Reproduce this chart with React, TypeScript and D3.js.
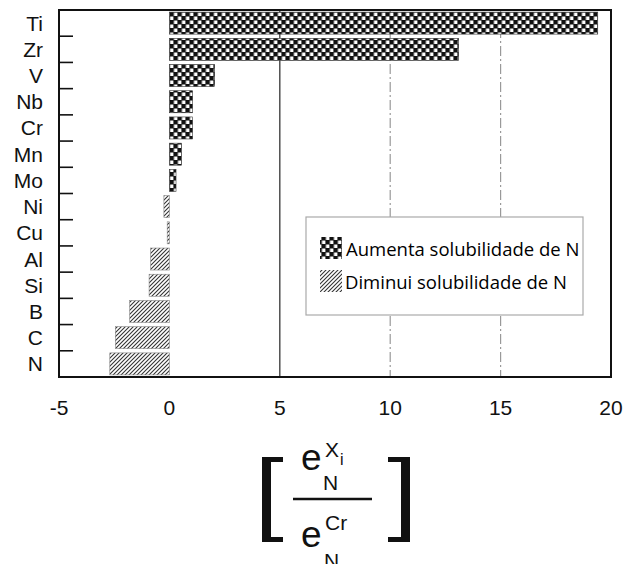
import React from "react";
import * as d3 from "d3";

const categories = ["Ti", "Zr", "V", "Nb", "Cr", "Mn", "Mo", "Ni", "Cu", "Al", "Si", "B", "C", "N"];
const values = [19.4, 13.1, 2.05, 1.05, 1.05, 0.55, 0.3, -0.25, -0.1, -0.85, -0.92, -1.8, -2.45, -2.7];
const xTicks = [-5, 0, 5, 10, 15, 20];
const legendLabels = ["Aumenta solubilidade de N", "Diminui solubilidade de N"];

const W = 626;
const H = 564;
const L = 59, R = 611, T = 10, B = 377;

export default function App() {
  const x = d3.scaleLinear().domain([-5, 20]).range([L, R]);
  const y = d3.scaleBand<string>().domain(categories).range([T, B]).paddingInner(0.16).paddingOuter(0.08);
  const boundaries = categories.slice(1).map((c) => (y(c) as number) - (y.step() - y.bandwidth()) / 2);
  const axisFont = "'Liberation Sans', Arial, Helvetica, sans-serif";

  return (
    <svg width={W} height={H} style={{ position: "absolute", left: 0, top: 0, background: "#fff" }}>
      <defs>
        <pattern id="checker" patternUnits="userSpaceOnUse" width={8} height={8} x={x(0)} y={0}>
          <rect width={8} height={8} fill="#111" />
          <rect x={0.5} y={0.5} width={3.5} height={3.5} fill="#fff" />
          <rect x={4.5} y={4.5} width={3.5} height={3.5} fill="#fff" />
        </pattern>
        <pattern id="hatch" patternUnits="userSpaceOnUse" width={4} height={4}>
          <rect width={4} height={4} fill="#fff" />
          <path d="M-1,1 L1,-1 M0,4 L4,0 M3,5 L5,3" stroke="#333" strokeWidth={1.1} />
        </pattern>
      </defs>

      {/* grid lines */}
      <line x1={x(5)} x2={x(5)} y1={T} y2={B} stroke="#444" strokeWidth={1.4} />
      {[10, 15].map((v) => (
        <line key={v} x1={x(v)} x2={x(v)} y1={T} y2={B} stroke="#999" strokeWidth={1.2} strokeDasharray="10,3,2,3" />
      ))}

      {/* bars */}
      {categories.map((c, i) => {
        const v = values[i];
        const x0 = x(Math.min(0, v));
        const x1 = x(Math.max(0, v));
        return (
          <rect
            key={c}
            x={x0}
            y={y(c)}
            width={x1 - x0}
            height={y.bandwidth()}
            fill={v >= 0 ? "url(#checker)" : "url(#hatch)"}
            stroke={v >= 0 ? "#333" : "#888"}
            strokeWidth={0.6}
          />
        );
      })}

      {/* frame */}
      <rect x={L} y={T} width={R - L} height={B - T} fill="none" stroke="#111" strokeWidth={2} />

      {/* left ticks */}
      {boundaries.map((b, i) => (
        <line key={i} x1={L} x2={L + 14} y1={b} y2={b} stroke="#111" strokeWidth={1.6} />
      ))}

      {/* category labels */}
      {categories.map((c) => (
        <text
          key={c}
          x={43}
          y={(y(c) as number) + y.bandwidth() / 2 + 7.5}
          textAnchor="end"
          fontFamily={axisFont}
          fontSize={21}
          fill="#111"
        >
          {c}
        </text>
      ))}

      {/* x tick labels */}
      {xTicks.map((t) => (
        <text key={t} x={x(t)} y={415} textAnchor="middle" fontFamily={axisFont} fontSize={21} fill="#111">
          {t}
        </text>
      ))}

      {/* legend */}
      <rect x={306} y={217} width={277} height={98} fill="#fff" stroke="#aaa" strokeWidth={1.2} />
      <rect x={320} y={237} width={22} height={22} fill="url(#checker)" />
      <rect x={320} y={270} width={22} height={22} fill="url(#hatch)" />
      <text x={346} y={256} fontFamily="'Open Sans', sans-serif" fontSize={18.5} fill="#000">
        {legendLabels[0]}
      </text>
      <text x={345} y={289} fontFamily="'Open Sans', sans-serif" fontSize={18.5} fill="#000">
        {legendLabels[1]}
      </text>

      {/* formula */}
      <g fill="#111" fontFamily={axisFont}>
        <path d="M283,457 L262,457 L262,542 L283,542 L283,537 L271,537 L271,462 L283,462 Z" />
        <path d="M388,457 L410,457 L410,542 L388,542 L388,537 L401,537 L401,462 L388,462 Z" />
        <text x={301} y={470} fontSize={37}>e</text>
        <text x={325} y={457} fontSize={21}>X</text>
        <text x={340} y={465} fontSize={16}>i</text>
        <text x={323} y={490} fontSize={21}>N</text>
        <line x1={293} x2={372} y1={499} y2={499} stroke="#111" strokeWidth={2.5} />
        <text x={301} y={547} fontSize={37}>e</text>
        <text x={325} y={530} fontSize={21}>Cr</text>
        <text x={324} y={568} fontSize={21}>N</text>
      </g>
    </svg>
  );
}
